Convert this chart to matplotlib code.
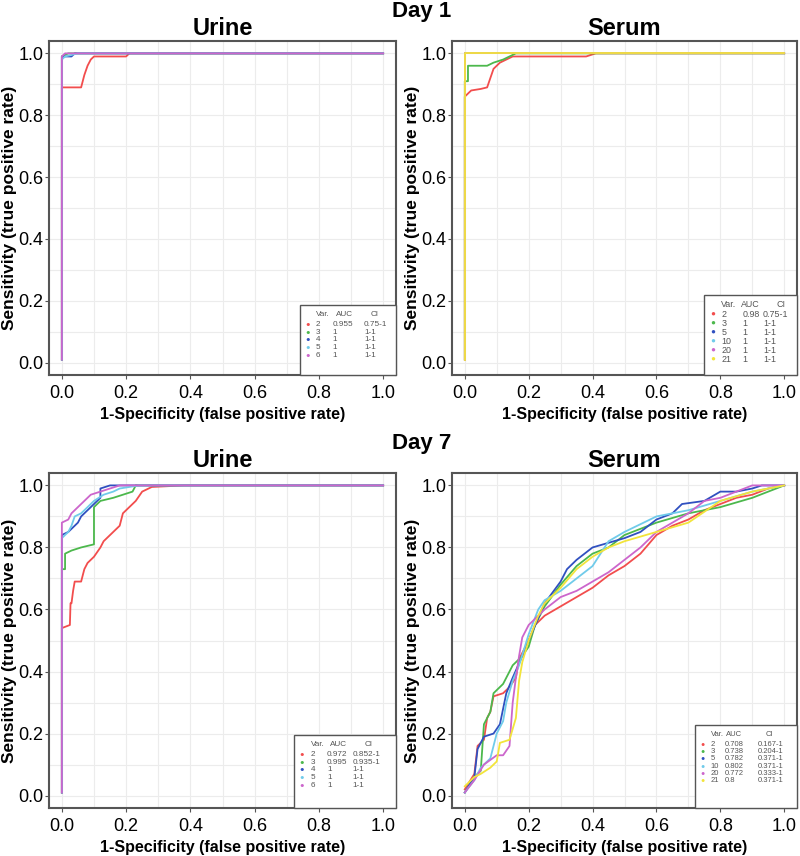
import matplotlib.pyplot as plt
from matplotlib.patches import Rectangle
from matplotlib.ticker import MultipleLocator

plt.rcParams['font.family'] = ['Liberation Sans', 'DejaVu Sans']

# colours per variable index in the legend order
col = {'red': '#f24d4d', 'green': '#4cb84c', 'blue': '#3050c0',
       'cyan': '#70cbea', 'purple': '#cc66cc', 'yellow': '#f2e43a'}

# ---- Day 1, urine ----
d1u_vars = ['2', '3', '4', '5', '6']
d1u_auc = ['0.955', '1', '1', '1', '1']
d1u_ci = ['0.75-1', '1-1', '1-1', '1-1', '1-1']
d1u_cols = ['red', 'green', 'blue', 'cyan', 'purple']
d1u_fpr = [
    [0, 0, 0.06, 0.07, 0.08, 0.09, 0.10, 0.20, 0.21, 1.0],
    [0, 0, 0.02, 1.0],
    [0, 0, 0.03, 0.04, 1.0],
    [0, 0, 0.01, 0.05, 1.0],
    [0, 0, 0.01, 1.0],
]
d1u_tpr = [
    [0.01, 0.89, 0.89, 0.93, 0.96, 0.98, 0.99, 0.99, 1.0, 1.0],
    [0.01, 0.99, 1.0, 1.0],
    [0.01, 0.99, 0.99, 1.0, 1.0],
    [0.01, 0.98, 0.99, 1.0, 1.0],
    [0.01, 0.99, 1.0, 1.0],
]

# ---- Day 1, serum ----
d1s_vars = ['2', '3', '5', '10', '20', '21']
d1s_auc = ['0.98', '1', '1', '1', '1', '1']
d1s_ci = ['0.75-1', '1-1', '1-1', '1-1', '1-1', '1-1']
d1s_cols = ['red', 'green', 'blue', 'cyan', 'purple', 'yellow']
d1s_fpr = [
    [0, 0, 0.01, 0.02, 0.05, 0.07, 0.08, 0.09, 0.10, 0.11, 0.13, 0.15, 0.38, 0.41, 1.0],
    [0, 0, 0.01, 0.01, 0.07, 0.09, 0.12, 0.14, 0.16, 1.0],
    [0, 0, 1.0],
    [0, 0, 1.0],
    [0, 0, 1.0],
    [0, 0, 1.0],
]
d1s_tpr = [
    [0.01, 0.86, 0.87, 0.88, 0.885, 0.89, 0.92, 0.95, 0.96, 0.97, 0.98, 0.99, 0.99, 1.0, 1.0],
    [0.01, 0.91, 0.91, 0.96, 0.96, 0.97, 0.98, 0.99, 1.0, 1.0],
    [0.01, 1.0, 1.0],
    [0.01, 1.0, 1.0],
    [0.01, 1.0, 1.0],
    [0.01, 1.0, 1.0],
]

# ---- Day 7, urine ----
d7u_vars = ['2', '3', '4', '5', '6']
d7u_auc = ['0.972', '0.995', '1', '1', '1']
d7u_ci = ['0.852-1', '0.935-1', '1-1', '1-1', '1-1']
d7u_cols = ['red', 'green', 'blue', 'cyan', 'purple']
d7u_fpr = [
    [0, 0, 0.025, 0.027, 0.03, 0.035, 0.04, 0.06, 0.07, 0.08, 0.10, 0.12, 0.13, 0.15,
     0.17, 0.18, 0.19, 0.23, 0.25, 0.28, 0.38, 1.0],
    [0, 0, 0.01, 0.01, 0.03, 0.06, 0.10, 0.10, 0.12, 0.16, 0.19, 0.22, 0.23, 1.0],
    [0, 0, 0.02, 0.04, 0.05, 0.06, 0.08, 0.10, 0.12, 0.12, 0.15, 1.0],
    [0, 0, 0.02, 0.03, 0.04, 0.06, 0.08, 0.10, 0.13, 0.16, 0.18, 0.24, 1.0],
    [0, 0, 0.02, 0.03, 0.05, 0.07, 0.09, 0.12, 0.15, 0.18, 1.0],
]
d7u_tpr = [
    [0.01, 0.54, 0.55, 0.62, 0.62, 0.66, 0.69, 0.69, 0.73, 0.75, 0.77, 0.80, 0.82, 0.84,
     0.86, 0.87, 0.91, 0.95, 0.98, 0.995, 1.0, 1.0],
    [0.01, 0.73, 0.73, 0.78, 0.79, 0.80, 0.81, 0.93, 0.95, 0.96, 0.97, 0.98, 1.0, 1.0],
    [0.01, 0.84, 0.85, 0.87, 0.88, 0.90, 0.92, 0.94, 0.96, 0.99, 1.0, 1.0],
    [0.01, 0.83, 0.85, 0.87, 0.90, 0.91, 0.93, 0.95, 0.97, 0.98, 0.99, 1.0, 1.0],
    [0.01, 0.88, 0.89, 0.91, 0.93, 0.95, 0.97, 0.98, 0.99, 1.0, 1.0],
]

# ---- Day 7, serum ----
d7s_vars = ['2', '3', '5', '10', '20', '21']
d7s_auc = ['0.708', '0.738', '0.782', '0.802', '0.772', '0.8']
d7s_ci = ['0.167-1', '0.204-1', '0.371-1', '0.371-1', '0.333-1', '0.371-1']
d7s_cols = ['red', 'green', 'blue', 'cyan', 'purple', 'yellow']
d7s_fpr = [
    [0, 0.03, 0.04, 0.06, 0.07, 0.08, 0.09, 0.12, 0.14, 0.16, 0.17, 0.18, 0.20, 0.22,
     0.25, 0.30, 0.35, 0.40, 0.45, 0.50, 0.55, 0.60, 0.65, 0.70, 0.75, 0.80, 0.85,
     0.90, 0.95, 1.0],
    [0, 0.03, 0.05, 0.06, 0.08, 0.09, 0.12, 0.15, 0.18, 0.20, 0.22, 0.25, 0.30, 0.35,
     0.40, 0.45, 0.50, 0.55, 0.60, 0.70, 0.80, 0.90, 1.0],
    [0, 0.03, 0.04, 0.06, 0.09, 0.11, 0.13, 0.15, 0.18, 0.20, 0.25, 0.30, 0.32, 0.35,
     0.40, 0.50, 0.55, 0.60, 0.65, 0.68, 0.75, 0.80, 0.85, 0.90, 0.93, 1.0],
    [0, 0.03, 0.05, 0.08, 0.10, 0.12, 0.13, 0.15, 0.17, 0.20, 0.23, 0.25, 0.30, 0.35,
     0.40, 0.45, 0.50, 0.60, 0.70, 0.80, 0.90, 1.0],
    [0, 0.03, 0.06, 0.10, 0.12, 0.14, 0.15, 0.16, 0.17, 0.18, 0.20, 0.25, 0.30, 0.35,
     0.40, 0.45, 0.50, 0.55, 0.60, 0.70, 0.75, 0.80, 0.85, 0.90, 1.0],
    [0, 0.03, 0.05, 0.08, 0.10, 0.11, 0.14, 0.16, 0.17, 0.18, 0.20, 0.23, 0.25, 0.30,
     0.35, 0.40, 0.45, 0.50, 0.60, 0.70, 0.80, 0.90, 1.0],
]
d7s_tpr = [
    [0.02, 0.07, 0.16, 0.18, 0.25, 0.27, 0.32, 0.33, 0.35, 0.38, 0.44, 0.46, 0.50, 0.55,
     0.58, 0.61, 0.64, 0.67, 0.71, 0.74, 0.78, 0.84, 0.87, 0.89, 0.92, 0.94, 0.96,
     0.97, 0.99, 1.0],
    [0.01, 0.06, 0.08, 0.23, 0.27, 0.33, 0.36, 0.42, 0.45, 0.48, 0.55, 0.61, 0.68, 0.74,
     0.78, 0.80, 0.84, 0.86, 0.88, 0.91, 0.93, 0.96, 1.0],
    [0.01, 0.06, 0.15, 0.19, 0.20, 0.23, 0.33, 0.38, 0.45, 0.50, 0.62, 0.69, 0.73, 0.76,
     0.80, 0.83, 0.85, 0.89, 0.91, 0.94, 0.95, 0.98, 0.98, 0.99, 1.0, 1.0],
    [0.01, 0.05, 0.09, 0.12, 0.20, 0.24, 0.30, 0.37, 0.42, 0.52, 0.60, 0.63, 0.66, 0.70,
     0.74, 0.82, 0.85, 0.90, 0.92, 0.95, 0.98, 1.0],
    [0.01, 0.05, 0.10, 0.13, 0.13, 0.16, 0.30, 0.38, 0.45, 0.51, 0.55, 0.60, 0.64, 0.66,
     0.69, 0.72, 0.76, 0.80, 0.85, 0.91, 0.95, 0.96, 0.98, 1.0, 1.0],
    [0.03, 0.06, 0.07, 0.09, 0.11, 0.17, 0.18, 0.25, 0.37, 0.43, 0.50, 0.58, 0.62, 0.67,
     0.73, 0.77, 0.80, 0.82, 0.85, 0.88, 0.95, 0.98, 1.0],
]


def roc_panel(ax, title, fprs, tprs, cols, vars_, aucs, cis, box, cols_px, row_px, fs):
    ax.set_xlim(-0.04, 1.04)
    ax.set_ylim(-0.04, 1.04)
    ax.xaxis.set_major_locator(MultipleLocator(0.2))
    ax.yaxis.set_major_locator(MultipleLocator(0.2))
    ax.xaxis.set_minor_locator(MultipleLocator(0.1))
    ax.yaxis.set_minor_locator(MultipleLocator(0.1))
    ax.grid(True, which='both', color='#ececec', linewidth=0.8)
    ax.set_axisbelow(True)
    ax.tick_params(which='minor', length=0)
    ax.tick_params(which='major', length=3, color='#555555', labelsize=13, pad=1)
    ax.tick_params(axis='x', pad=4)
    for s in ax.spines.values():
        s.set_color('#555555')
        s.set_linewidth(1.5)

    for x, y, c in zip(fprs, tprs, cols):
        ax.plot(x, y, color=col[c], linewidth=1.3)

    ax.set_title(title, fontsize=17, fontweight='bold', pad=4)
    ax.set_xlabel('1-Specificity (false positive rate)', fontsize=11.5, fontweight='bold', labelpad=4)
    ax.set_ylabel('Sensitivity (true positive rate)', fontsize=12.5, fontweight='bold')
    ax.yaxis.set_label_coords(-0.093, 0.5)

    # table-like legend box in the lower right corner
    x0, ytop = box
    ax.add_patch(Rectangle((x0, 0), 1 - x0, ytop, transform=ax.transAxes, facecolor='white',
                           edgecolor='#555555', linewidth=1.0, zorder=5, clip_on=False))
    mk, cv, ca, cc, ha, hc = cols_px
    k = 0.72  # px -> points at 100 dpi
    kw = dict(xycoords='axes fraction', textcoords='offset points', fontsize=fs,
              color='#555555', va='center', zorder=6)
    ax.annotate('Var.', (x0, ytop), xytext=(cv * k, -10 * k), **kw)
    ax.annotate('AUC', (x0, ytop), xytext=(ha * k, -10 * k), **kw)
    ax.annotate('CI', (x0, ytop), xytext=(hc * k, -10 * k), **kw)
    for i, (v, a, ci, c) in enumerate(zip(vars_, aucs, cis, cols)):
        dy = -(19.5 + i * row_px) * k
        ax.annotate('●', (x0, ytop), xytext=((mk - 2) * k, dy),
                    **{**kw, 'color': col[c], 'fontsize': fs - 0.5})
        ax.annotate(v, (x0, ytop), xytext=(cv * k, dy), **kw)
        ax.annotate(a, (x0, ytop), xytext=(ca * k, dy), **kw)
        ax.annotate(ci, (x0, ytop), xytext=(cc * k, dy), **kw)


fig = plt.figure(figsize=(8, 8.56), dpi=100)
W, H = 800, 856


def add_ax(l, t, r, b):
    return fig.add_axes([l / W, 1 - b / H, (r - l) / W, (b - t) / H])


ax1 = add_ax(49, 41, 396, 375)
ax2 = add_ax(452, 41, 797, 375)
ax3 = add_ax(49, 473, 396, 808)
ax4 = add_ax(452, 473, 797, 808)

roc_panel(ax1, 'Urine', d1u_fpr, d1u_tpr, d1u_cols, d1u_vars, d1u_auc, d1u_ci,
          (0.722, 0.21), (7.7, 16.5, 33, 64.5, 36.5, 71), 7.8, 5.9)
roc_panel(ax2, 'Serum', d1s_fpr, d1s_tpr, d1s_cols, d1s_vars, d1s_auc, d1s_ci,
          (0.730, 0.24), (8.3, 17.5, 38.5, 59, 37.5, 72.5), 9.0, 6.4)
roc_panel(ax3, 'Urine', d7u_fpr, d7u_tpr, d7u_cols, d7u_vars, d7u_auc, d7u_ci,
          (0.706, 0.218), (7.7, 16.5, 33, 58.5, 36.5, 71), 7.75, 5.9)
roc_panel(ax4, 'Serum', d7s_fpr, d7s_tpr, d7s_cols, d7s_vars, d7s_auc, d7s_ci,
          (0.704, 0.248), (7.7, 15.7, 30, 63, 31, 71), 7.2, 5.5)

fig.text(422 / W, 1 - 11 / H, 'Day 1', ha='center', va='center', fontsize=16, fontweight='bold')
fig.text(422 / W, 1 - 443 / H, 'Day 7', ha='center', va='center', fontsize=16, fontweight='bold')

fig.savefig('out.png', dpi=100)
